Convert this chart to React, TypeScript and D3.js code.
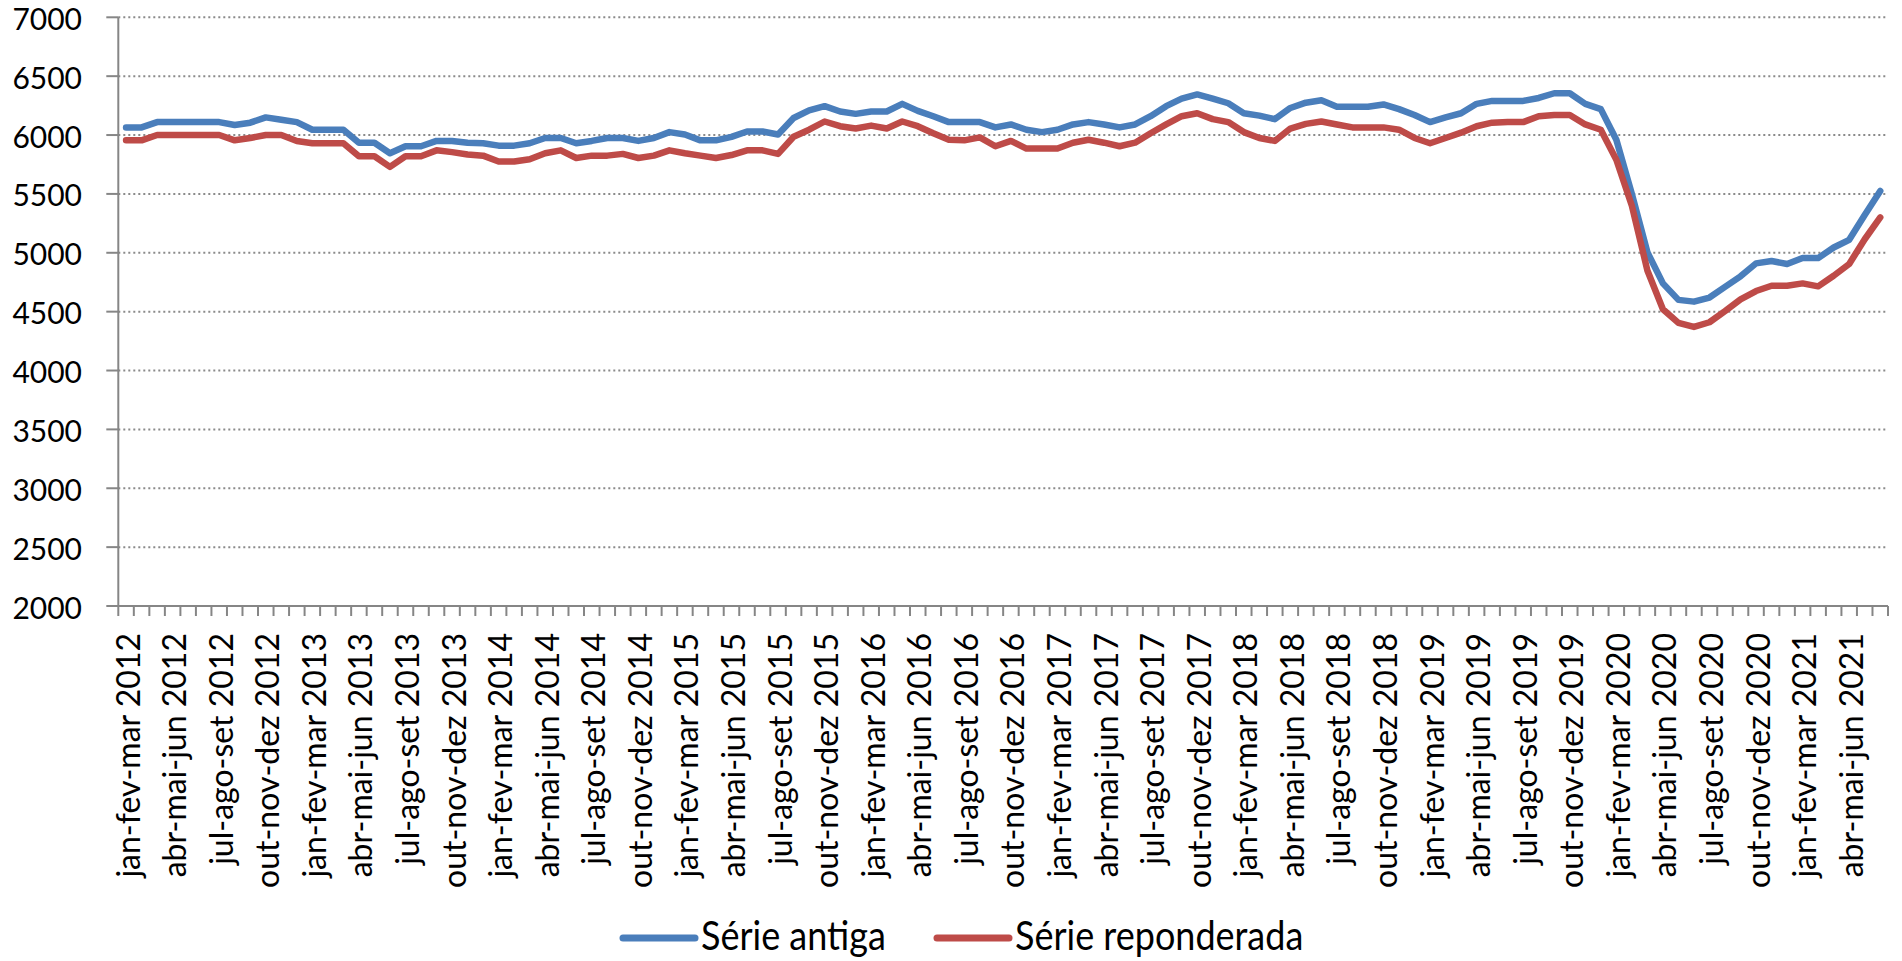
import React, { useRef, useEffect } from 'react';
import * as d3 from 'd3';

// rolling quarters, jan-fev-mar 2012 .. jun-jul-ago 2021
const MONTHS = ['jan', 'fev', 'mar', 'abr', 'mai', 'jun', 'jul', 'ago', 'set', 'out', 'nov', 'dez'];
const FIRST_YEAR = 2012;
const N_PERIODS = 114;
const categories = d3.range(N_PERIODS).map(i => {
  const s = i % 12;
  const year = FIRST_YEAR + Math.floor((i + 2) / 12);
  return `${MONTHS[s]}-${MONTHS[(s + 1) % 12]}-${MONTHS[(s + 2) % 12]} ${year}`;
});

const serieAntiga = [
  6065, 6065, 6110, 6110, 6110, 6110, 6110, 6085, 6105, 6150, 6130, 6110,
  6045, 6045, 6045, 5935, 5935, 5845, 5905, 5905, 5950, 5950, 5935, 5930,
  5910, 5910, 5930, 5975, 5975, 5930, 5950, 5975, 5975, 5950, 5975, 6025,
  6005, 5955, 5955, 5985, 6030, 6030, 6005, 6145, 6210, 6245, 6200, 6180,
  6200, 6200, 6265, 6205, 6160, 6110, 6110, 6110, 6065, 6090, 6045, 6025,
  6045, 6090, 6110, 6090, 6065, 6090, 6160, 6245, 6310, 6345, 6310, 6270,
  6185, 6165, 6135, 6230, 6275, 6295, 6240, 6240, 6240, 6260, 6220, 6170,
  6110, 6150, 6185, 6265, 6290, 6290, 6290, 6315, 6355, 6355, 6265, 6220,
  5960, 5500, 5005, 4740, 4600, 4585, 4620, 4710, 4800, 4910, 4930, 4905,
  4955, 4955, 5045, 5110, 5320, 5525,
];

const serieReponderada = [
  5955, 5955, 6000, 6000, 6000, 6000, 6000, 5955, 5975, 6000, 6000, 5950,
  5930, 5930, 5930, 5820, 5820, 5730, 5820, 5820, 5870, 5855, 5835, 5825,
  5775, 5775, 5795, 5845, 5870, 5805, 5825, 5825, 5840, 5805, 5825, 5870,
  5845, 5825, 5805, 5830, 5870, 5870, 5840, 5985, 6045, 6115, 6075, 6055,
  6080, 6055, 6115, 6075, 6015, 5960, 5955, 5980, 5905, 5950, 5885, 5885,
  5885, 5935, 5960, 5935, 5905, 5935, 6015, 6090, 6160, 6185, 6135, 6110,
  6025, 5975, 5950, 6055, 6095, 6115, 6090, 6065, 6065, 6065, 6045, 5975,
  5930, 5975, 6020, 6075, 6105, 6110, 6110, 6160, 6170, 6170, 6090, 6045,
  5790, 5400, 4850, 4520, 4405, 4370, 4410, 4505, 4605, 4675, 4720, 4720,
  4740, 4715, 4805, 4905, 5115, 5300,
];

const yTicks = d3.range(2000, 7001, 500);
const LABEL_STEP = 3;

const series = [
  { name: 'Série antiga', values: serieAntiga, color: '#4A7EBB' },
  { name: 'Série reponderada', values: serieReponderada, color: '#BE4B48' },
];

const W = 1902;
const H = 961;
const FONT = 'Lato, "Open Sans", sans-serif';
const AXIS = '#868686';

const App = () => {
  const ref = useRef<SVGSVGElement>(null);

  useEffect(() => {
    const svg = d3.select(ref.current);
    svg.selectAll('*').remove();

    const left = 118.3, right = 1888, top = 17.3, bottom = 606;

    const x = d3.scaleBand().domain(categories).range([left, right]).paddingInner(0).paddingOuter(0);
    const xc = (c: string) => (x(c) as number) + x.bandwidth() / 2;
    const y = d3.scaleLinear().domain([2000, 7000]).range([bottom, top]);

    // gridlines
    svg.append('g')
      .selectAll('line')
      .data(yTicks.filter(t => t > 2000))
      .enter()
      .append('line')
      .attr('x1', left).attr('x2', right)
      .attr('y1', d => y(d)).attr('y2', d => y(d))
      .attr('stroke', '#8a8a8a')
      .attr('stroke-width', 2)
      .attr('stroke-dasharray', '2 3');

    // y axis
    const gy = svg.append('g');
    gy.append('line')
      .attr('x1', left).attr('x2', left)
      .attr('y1', top).attr('y2', bottom)
      .attr('stroke', AXIS).attr('stroke-width', 2);
    gy.selectAll('line.tick')
      .data(yTicks)
      .enter()
      .append('line')
      .attr('class', 'tick')
      .attr('x1', left - 12).attr('x2', left)
      .attr('y1', d => y(d)).attr('y2', d => y(d))
      .attr('stroke', AXIS).attr('stroke-width', 2);
    gy.selectAll('text')
      .data(yTicks)
      .enter()
      .append('text')
      .attr('x', 82)
      .attr('y', d => y(d) + 2)
      .attr('dy', '0.35em')
      .attr('text-anchor', 'end')
      .style('font-family', FONT)
      .style('font-size', '30px')
      .style('fill', '#000')
      .text(d => d);

    // x axis
    const gx = svg.append('g');
    gx.append('line')
      .attr('x1', left).attr('x2', right)
      .attr('y1', bottom).attr('y2', bottom)
      .attr('stroke', AXIS).attr('stroke-width', 2);
    const edges = categories.map(c => x(c) as number).concat([right]);
    gx.selectAll('line.tick')
      .data(edges)
      .enter()
      .append('line')
      .attr('class', 'tick')
      .attr('x1', d => d).attr('x2', d => d)
      .attr('y1', bottom).attr('y2', bottom + 10)
      .attr('stroke', AXIS).attr('stroke-width', 2);
    gx.selectAll('text')
      .data(categories.filter((_, i) => i % LABEL_STEP === 0))
      .enter()
      .append('text')
      .attr('transform', d => `translate(${xc(d)}, ${bottom + 27}) rotate(-90)`)
      .attr('dy', '0.42em')
      .attr('text-anchor', 'end')
      .style('font-family', FONT)
      .style('font-size', '32px')
      .style('fill', '#000')
      .text(d => d);

    // series lines
    const line = d3.line<number>()
      .x((_, i) => xc(categories[i]))
      .y(d => y(d));

    svg.append('g')
      .selectAll('path')
      .data(series)
      .enter()
      .append('path')
      .attr('d', d => line(d.values))
      .attr('fill', 'none')
      .attr('stroke', d => d.color)
      .attr('stroke-width', 6.5)
      .attr('stroke-linejoin', 'round')
      .attr('stroke-linecap', 'round');

    // legend (text a bit taller than wide, like the source)
    const legendX = [623, 937];
    const lg = svg.append('g')
      .selectAll('g')
      .data(series)
      .enter()
      .append('g')
      .attr('transform', (_, i) => `translate(${legendX[i]}, 938)`);
    lg.append('line')
      .attr('x1', 0).attr('x2', 72)
      .attr('y1', 0).attr('y2', 0)
      .attr('stroke', d => d.color)
      .attr('stroke-width', 7)
      .attr('stroke-linecap', 'round');
    lg.append('text')
      .attr('transform', 'translate(78, 12) scale(1, 1.1)')
      .style('font-family', FONT)
      .style('font-size', '36px')
      .style('fill', '#000')
      .text(d => d.name);
  }, []);

  return (
    <svg
      ref={ref}
      width={W}
      height={H}
      style={{ position: 'absolute', left: 0, top: 0, background: '#fff' }}
    />
  );
};

export default App;
